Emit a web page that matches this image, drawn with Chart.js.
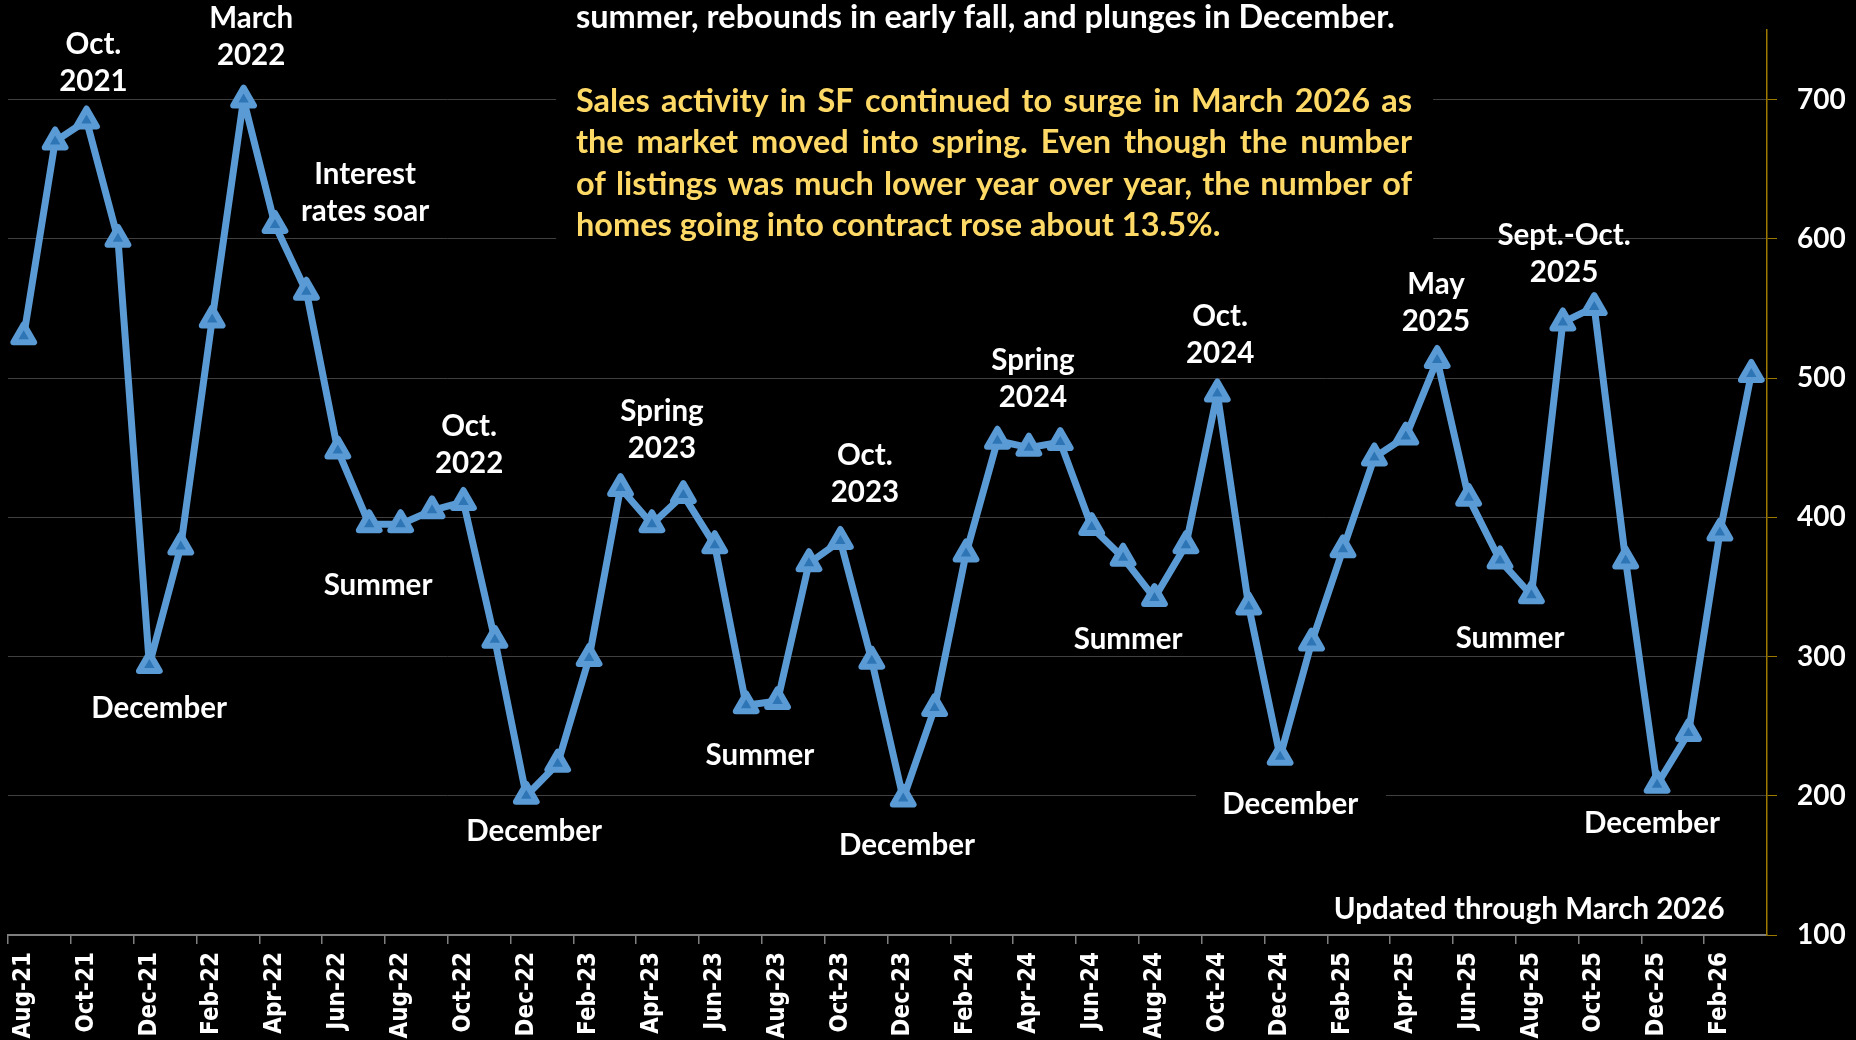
<!DOCTYPE html>
<html>
<head>
<meta charset="utf-8">
<title>SF homes going into contract</title>
<script src="https://cdn.jsdelivr.net/npm/chart.js@4.4.1/dist/chart.umd.min.js"></script>
<style>
    html, body { margin: 0; padding: 0; background: #000; }
    #wrap { width: 1856px; height: 1040px; }
</style>
</head>
<body>
<div id="wrap"><canvas id="contractsChart" width="1856" height="1040"></canvas></div>
<script>
// ==================== DATA ====================

const months = [
    'Aug-21', 'Sep-21', 'Oct-21', 'Nov-21', 'Dec-21',
    'Jan-22', 'Feb-22', 'Mar-22', 'Apr-22', 'May-22', 'Jun-22', 'Jul-22', 'Aug-22', 'Sep-22', 'Oct-22', 'Nov-22', 'Dec-22',
    'Jan-23', 'Feb-23', 'Mar-23', 'Apr-23', 'May-23', 'Jun-23', 'Jul-23', 'Aug-23', 'Sep-23', 'Oct-23', 'Nov-23', 'Dec-23',
    'Jan-24', 'Feb-24', 'Mar-24', 'Apr-24', 'May-24', 'Jun-24', 'Jul-24', 'Aug-24', 'Sep-24', 'Oct-24', 'Nov-24', 'Dec-24',
    'Jan-25', 'Feb-25', 'Mar-25', 'Apr-25', 'May-25', 'Jun-25', 'Jul-25', 'Aug-25', 'Sep-25', 'Oct-25', 'Nov-25', 'Dec-25',
    'Jan-26', 'Feb-26', 'Mar-26'
];

const contracts = [
    530, 670, 685, 600, 294,
    379, 542, 700, 610, 562, 448, 395, 395, 405, 411, 312, 200,
    223, 299, 421, 395, 416, 380, 265, 268, 367, 383, 297, 198,
    263, 374, 455, 450, 454, 393, 371, 342, 380, 489, 336, 228,
    310, 377, 443, 458, 513, 414, 369, 344, 540, 551, 369, 208,
    245, 389, 503
];

const yTickValues = [100, 200, 300, 400, 500, 600, 700];

// annotation text, placed at [category index, value]
const notes = [
    { lines: ['Oct.', '2021'], at: [2.22, 726] },
    { lines: ['March', '2022'], at: [7.24, 745] },
    { lines: ['Interest', 'rates soar'], at: [10.87, 633] },
    { lines: ['December'], at: [4.31, 263] },
    { lines: ['Summer'], at: [11.28, 351] },
    { lines: ['Oct.', '2022'], at: [14.18, 452] },
    { lines: ['December'], at: [16.25, 174] },
    { lines: ['Spring', '2023'], at: [20.32, 463] },
    { lines: ['Summer'], at: [23.44, 229] },
    { lines: ['Oct.', '2023'], at: [26.78, 431] },
    { lines: ['December'], at: [28.12, 164] },
    { lines: ['Spring', '2024'], at: [32.13, 499] },
    { lines: ['Summer'], at: [35.16, 312] },
    { lines: ['Oct.', '2024'], at: [38.09, 531] },
    { lines: ['December'], at: [40.32, 194] },
    { lines: ['May', '2025'], at: [44.96, 554] },
    { lines: ['Summer'], at: [47.32, 313] },
    { lines: ['Sept.-Oct.', '2025'], at: [49.04, 589] },
    { lines: ['December'], at: [51.84, 180] },
    { lines: ['Updated through March 2026'], at: [47.93, 118] }
];

const introLine = 'summer, rebounds in early fall, and plunges in December.';
const highlightLines = [
    'Sales activity in SF continued to surge in March 2026 as',
    'the market moved into spring. Even though the number',
    'of listings was much lower year over year, the number of',
    'homes going into contract rose about 13.5%.'
];

// black text-box backgrounds that hide the gridlines: [x from, x to, value top, value bottom]
const textBoxes = [
    [16.95, 44.87, 800, 592],
    [37.32, 43.37, 215, 172]
];

// ==================== PLUGIN ====================

const LABEL_FONT = 'bold 29.5px Lato';
const TEXT_FONT = 'bold 32.5px Lato';

function drawJustified(ctx, line, left, right, y) {
    const words = line.split(' ');
    const total = words.reduce((sum, w) => sum + ctx.measureText(w).width, 0);
    const gap = Math.max((right - left - total) / (words.length - 1), 4);
    let x = left;
    words.forEach(w => {
        ctx.fillText(w, x, y);
        x += ctx.measureText(w).width + gap;
    });
}

const annotationsPlugin = {
    id: 'annotations',
    beforeDatasetsDraw(chart) {
        const { ctx, scales: { x, y } } = chart;
        ctx.save();
        ctx.fillStyle = '#000';
        textBoxes.forEach(([x0, x1, v0, v1]) => {
            const left = x.getPixelForValue(x0);
            const top = y.getPixelForValue(v0);
            ctx.fillRect(left, top, x.getPixelForValue(x1) - left, y.getPixelForValue(v1) - top);
        });
        ctx.restore();
        // rounded corners on the triangles, like the original
        ctx.lineJoin = 'round';
    },
    afterDatasetsDraw(chart) {
        const { ctx, scales: { x, y } } = chart;
        ctx.save();
        ctx.lineJoin = 'miter';
        ctx.font = LABEL_FONT;
        ctx.fillStyle = '#fff';
        ctx.textAlign = 'center';
        ctx.textBaseline = 'middle';

        const lineHeight = 37;
        notes.forEach(note => {
            const cx = x.getPixelForValue(note.at[0]);
            const cy = y.getPixelForValue(note.at[1]);
            const startY = cy - (note.lines.length - 1) * lineHeight / 2;
            note.lines.forEach((text, i) => ctx.fillText(text, cx, startY + i * lineHeight));
        });

        // commentary block at the top
        const left = x.getPixelForValue(17.58);
        const right = x.getPixelForValue(44.2);
        ctx.font = TEXT_FONT;
        ctx.textAlign = 'left';
        ctx.fillText(introLine, left, y.getPixelForValue(759));

        ctx.fillStyle = '#FFD966';
        const firstY = y.getPixelForValue(698.6);
        highlightLines.forEach((text, i) => {
            const ly = firstY + i * 41.3;
            if (i < highlightLines.length - 1) {
                drawJustified(ctx, text, left, right, ly);
            } else {
                ctx.fillText(text, left, ly);
            }
        });
        ctx.restore();
    }
};

// ==================== CHART ====================

const ctx = document.getElementById('contractsChart');

new Chart(ctx, {
    type: 'line',
    data: {
        labels: months,
        datasets: [{
            label: 'Homes going into contract',
            data: contracts,
            borderColor: '#5B9BD5',
            borderWidth: 7,
            borderJoinStyle: 'round',
            tension: 0,
            pointStyle: 'triangle',
            pointRadius: 12,
            pointBorderWidth: 6,
            pointBackgroundColor: '#2E75B6',
            pointBorderColor: '#5B9BD5'
        }]
    },
    options: {
        responsive: false,
        animation: false,
        devicePixelRatio: 1,
        layout: {
            autoPadding: false,
            padding: { left: 8, top: 30, right: 0, bottom: 0 }
        },
        scales: {
            x: {
                type: 'category',
                offset: true,
                grid: {
                    offset: true,
                    drawOnChartArea: false,
                    tickLength: 9,
                    lineWidth: 1.5,
                    color: c => (c.index % 2 === 0 ? '#7f7f7f' : 'rgba(0,0,0,0)')
                },
                border: { color: '#7f7f7f', width: 2 },
                ticks: {
                    autoSkip: false,
                    minRotation: 90,
                    maxRotation: 90,
                    padding: 8,
                    color: '#fff',
                    font: { family: '"DejaVu Sans Condensed", "DejaVu Sans"', size: 24, weight: 'bold' },
                    callback: function (value, index) {
                        return index % 2 === 0 ? this.getLabelForValue(value) : '';
                    }
                },
                afterFit: axis => {
                    axis.height = 105;
                    axis.paddingLeft = 0;
                    axis.paddingRight = 0;
                }
            },
            y: {
                position: 'right',
                min: 100,
                max: 750,
                grid: {
                    color: '#404040',
                    lineWidth: 1,
                    tickColor: '#9C7A00',
                    tickLength: 10
                },
                border: { color: '#9C7A00', width: 1.5 },
                ticks: {
                    padding: 20,
                    color: '#fff',
                    font: { family: 'Lato', size: 28, weight: 'bold' }
                },
                afterBuildTicks: axis => {
                    axis.ticks = yTickValues.map(v => ({ value: v }));
                },
                afterFit: axis => {
                    axis.width = 89;
                    axis.paddingTop = 0;
                    axis.paddingBottom = 0;
                }
            }
        },
        plugins: {
            legend: { display: false },
            tooltip: { enabled: false }
        }
    },
    plugins: [annotationsPlugin]
});
</script>
</body>
</html>
